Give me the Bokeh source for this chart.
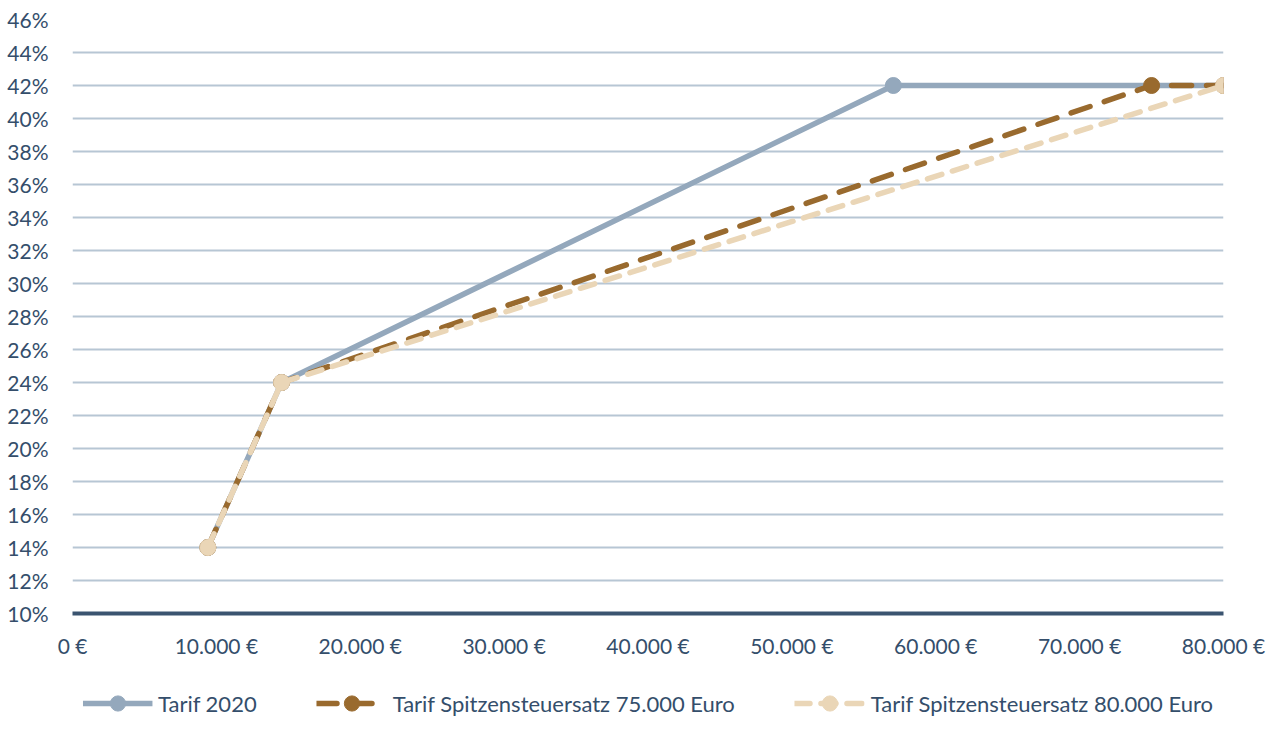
from bokeh.plotting import figure
from bokeh.models import Legend, LegendItem, FixedTicker, Range1d
from bokeh.layouts import column
from bokeh.embed import file_html
from bokeh.resources import INLINE

# ---- data ----
x_2020 = [9408, 14532, 57052, 80000]
y_2020 = [14, 24, 42, 42]
x_75 = [9408, 14532, 75000, 80000]
y_75 = [14, 24, 42, 42]
x_80 = [9408, 14532, 80000]
y_80 = [14, 24, 42]
series_names = ["Tarif 2020", "Tarif Spitzensteuersatz 75.000 Euro", "Tarif Spitzensteuersatz 80.000 Euro"]

x_ticks = [0, 10000, 20000, 30000, 40000, 50000, 60000, 70000, 80000]
x_tick_labels = ["0 €", "10.000 €", "20.000 €", "30.000 €", "40.000 €", "50.000 €", "60.000 €", "70.000 €", "80.000 €"]
y_ticks = list(range(10, 47, 2))
y_tick_labels = [f"{v}%" for v in y_ticks]

FONT = "Lato"
TXT = "#344E6B"
C_GRAY = "#94A8BC"
C_BROWN = "#996A2E"
C_BEIGE = "#EAD6B7"

p = figure(frame_width=1151, frame_height=594, output_backend="svg", toolbar_location=None,
           x_range=Range1d(0, 80000), y_range=Range1d(10, 46),
           min_border_left=72, min_border_right=44, min_border_top=19, min_border_bottom=0)
p.outline_line_color = None
p.xgrid.grid_line_color = None
p.ygrid.grid_line_color = "#B7C6D4"
p.ygrid.grid_line_width = 2

p.xaxis.ticker = FixedTicker(ticks=x_ticks)
p.xaxis.major_label_overrides = {t: l for t, l in zip(x_ticks, x_tick_labels)}
p.yaxis.ticker = FixedTicker(ticks=y_ticks)
p.yaxis.major_label_overrides = {t: l for t, l in zip(y_ticks, y_tick_labels)}
for ax in (p.xaxis, p.yaxis):
    ax.major_tick_line_color = None
    ax.minor_tick_line_color = None
    ax.major_label_text_font = FONT
    ax.major_label_text_font_size = "21px"
    ax.major_label_text_color = TXT
p.yaxis.axis_line_color = None
p.yaxis.major_label_standoff = 18
p.xaxis.axis_line_color = "#3B5470"
p.xaxis.axis_line_width = 4
p.xaxis.major_label_standoff = 13

def draw(fig, xs, ys, mx, my, color, dash):
    kw = dict(line_color=color, line_width=5.5)
    if dash:
        kw.update(line_dash=dash, line_cap="round")
    ln = fig.line(xs, ys, **kw)
    sc = fig.scatter(mx, my, size=16, fill_color=color, line_color=color)
    return ln, sc

draw(p, x_2020, y_2020, x_2020[:3], y_2020[:3], C_GRAY, None)
draw(p, x_75, y_75, x_75, y_75, C_BROWN, "20 15")
draw(p, x_80, y_80, x_80, y_80, C_BEIGE, "15 11")

# legend strip below the chart (its renderers lie outside this strip's ranges, so only the legend shows)
lf = figure(frame_width=1151, frame_height=86, output_backend="svg", toolbar_location=None,
            min_border_left=72, min_border_right=44, min_border_top=0, min_border_bottom=0,
            x_range=Range1d(0, 1), y_range=Range1d(0, 1))
lf.axis.visible = False
lf.grid.visible = False
lf.outline_line_color = None
items = []
for name, xs, ys, color, dash in zip(series_names, [x_2020, x_75, x_80], [y_2020, y_75, y_80],
                                     [C_GRAY, C_BROWN, C_BEIGE], [None, "20 15", "15 11"]):
    ln, sc = draw(lf, xs, ys, xs, ys, color, dash)
    items.append(LegendItem(label=name, renderers=[ln, sc]))
legend = Legend(items=items, orientation="horizontal", location="center",
                label_text_font=FONT, label_text_font_size="22px", label_text_color=TXT,
                glyph_width=70, glyph_height=38, label_standoff=6, spacing=60,
                border_line_color=None, background_fill_alpha=0, margin=0, padding=0)
lf.add_layout(legend, "center")

open("out.html", "w").write(file_html(column(p, lf), INLINE))
